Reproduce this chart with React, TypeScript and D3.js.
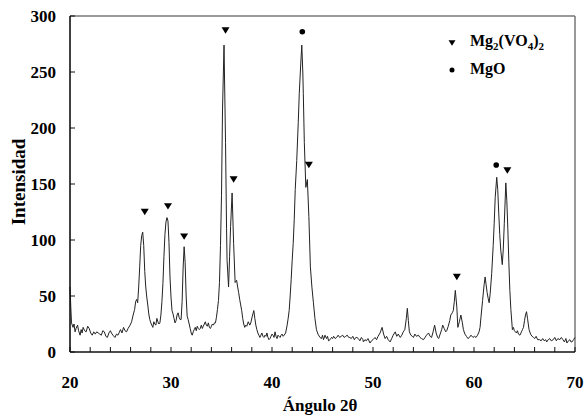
import React from "react";
import * as d3 from "d3";

const xTicks = [20, 30, 40, 50, 60, 70];
const yTicks = [0, 50, 100, 150, 200, 250, 300];

// XRD pattern: [2θ, intensity]
const xrdData: [number, number][] = [
  [20.0, 58], [20.08, 40], [20.15, 26], [20.3, 22], [20.4, 25], [20.5, 18], [20.6, 21], [20.75, 24], [20.85, 19],
  [21.0, 15], [21.1, 20], [21.2, 17], [21.3, 22], [21.45, 19], [21.6, 18], [21.75, 23], [21.9, 21], [22.05, 17],
  [22.2, 15], [22.35, 18], [22.5, 16], [22.65, 18], [22.8, 17], [22.95, 16], [23.1, 15], [23.25, 19], [23.4, 18],
  [23.55, 14], [23.7, 13], [23.85, 17], [24.0, 19], [24.1, 17], [24.25, 15], [24.45, 13], [24.6, 16], [24.75, 15],
  [24.85, 17], [25.0, 20], [25.15, 17], [25.3, 22], [25.45, 19], [25.6, 18], [25.75, 21], [25.95, 24], [26.1, 27],
  [26.25, 33], [26.4, 38], [26.5, 45], [26.6, 47], [26.7, 44], [26.8, 58], [26.9, 76], [27.0, 95], [27.1, 104],
  [27.2, 107], [27.3, 95], [27.4, 72], [27.5, 58], [27.6, 49], [27.7, 42], [27.8, 34], [27.9, 29], [28.0, 26],
  [28.1, 24], [28.2, 22], [28.3, 27], [28.4, 25], [28.5, 24], [28.6, 30], [28.7, 27], [28.8, 25], [28.9, 26],
  [29.0, 33], [29.1, 45], [29.2, 61], [29.3, 85], [29.4, 105], [29.5, 116], [29.6, 120], [29.7, 117], [29.8, 98],
  [29.9, 67], [30.0, 49], [30.1, 37], [30.2, 34], [30.3, 30], [30.4, 26], [30.5, 28], [30.6, 33], [30.7, 35],
  [30.8, 31], [30.9, 29], [31.0, 29], [31.1, 45], [31.2, 75], [31.3, 94], [31.4, 80], [31.5, 50], [31.6, 32],
  [31.7, 29], [31.8, 25], [31.9, 21], [32.0, 17], [32.1, 15], [32.2, 18], [32.3, 20], [32.4, 22], [32.5, 19],
  [32.6, 23], [32.7, 21], [32.8, 20], [32.9, 21], [33.0, 24], [33.1, 21], [33.2, 23], [33.3, 25], [33.4, 27],
  [33.5, 24], [33.6, 23], [33.7, 26], [33.8, 22], [33.9, 21], [34.0, 23], [34.1, 25], [34.2, 24], [34.3, 26],
  [34.4, 26], [34.5, 31], [34.6, 38], [34.7, 46], [34.8, 62], [34.9, 95], [35.0, 140], [35.1, 216], [35.25, 274],
  [35.4, 187], [35.5, 110], [35.55, 82], [35.7, 58], [35.8, 85], [35.9, 112], [36.05, 142], [36.2, 97], [36.35, 62],
  [36.5, 64], [36.6, 58], [36.7, 53], [36.8, 47], [36.9, 42], [37.0, 37], [37.1, 30], [37.2, 25], [37.3, 22],
  [37.4, 24], [37.5, 23], [37.65, 27], [37.8, 24], [37.9, 26], [38.05, 32], [38.2, 37], [38.3, 30], [38.4, 24],
  [38.5, 20], [38.6, 17], [38.7, 15], [38.8, 13], [38.9, 15], [39.0, 17], [39.1, 14], [39.2, 13], [39.3, 15],
  [39.4, 14], [39.5, 17], [39.6, 13], [39.7, 11], [39.8, 12], [39.9, 14], [40.0, 16], [40.1, 15], [40.2, 13],
  [40.3, 18], [40.4, 14], [40.5, 12], [40.6, 15], [40.7, 14], [40.8, 13], [40.9, 15], [41.0, 16], [41.1, 14],
  [41.2, 15], [41.35, 17], [41.5, 24], [41.6, 30], [41.7, 37], [41.8, 50], [41.9, 65], [42.0, 82], [42.1, 97],
  [42.2, 118], [42.3, 145], [42.45, 171], [42.6, 205], [42.7, 231], [42.85, 258], [42.95, 274], [43.05, 250],
  [43.1, 231], [43.2, 187], [43.35, 147], [43.5, 154], [43.65, 121], [43.8, 76], [43.95, 58], [44.1, 44],
  [44.25, 30], [44.4, 20], [44.55, 16], [44.75, 13], [44.9, 12], [45.0, 15], [45.1, 11], [45.25, 15], [45.4, 12],
  [45.5, 14], [45.6, 10], [45.75, 11], [45.9, 13], [46.0, 12], [46.1, 14], [46.25, 12], [46.4, 13], [46.55, 15],
  [46.7, 13], [46.85, 14], [47.0, 15], [47.15, 13], [47.3, 14], [47.45, 15], [47.6, 13], [47.7, 13], [47.85, 12],
  [48.0, 14], [48.15, 11], [48.3, 13], [48.4, 13], [48.55, 12], [48.7, 10], [48.85, 13], [49.0, 11], [49.05, 9],
  [49.2, 11], [49.35, 10], [49.5, 12], [49.7, 8], [49.85, 10], [50.0, 11], [50.2, 13], [50.35, 11], [50.5, 14],
  [50.7, 17], [50.9, 22], [51.05, 16], [51.2, 12], [51.35, 14], [51.5, 11], [51.7, 9], [51.85, 12], [52.0, 15],
  [52.2, 18], [52.35, 14], [52.5, 16], [52.7, 13], [52.85, 15], [53.0, 18], [53.15, 20], [53.3, 30], [53.4, 39],
  [53.5, 28], [53.6, 18], [53.75, 15], [53.9, 14], [54.0, 13], [54.15, 16], [54.3, 14], [54.5, 15], [54.65, 13],
  [54.8, 12], [55.0, 11], [55.15, 13], [55.3, 15], [55.5, 17], [55.65, 14], [55.8, 13], [55.95, 18], [56.1, 24],
  [56.25, 17], [56.4, 13], [56.5, 12], [56.65, 16], [56.8, 20], [56.9, 24], [57.05, 21], [57.2, 18], [57.3, 19],
  [57.45, 23], [57.6, 28], [57.7, 33], [57.85, 35], [57.95, 37], [58.05, 45], [58.15, 55], [58.3, 40], [58.4, 22],
  [58.55, 27], [58.7, 33], [58.85, 26], [58.95, 20], [59.1, 16], [59.25, 14], [59.4, 12], [59.55, 13], [59.7, 15],
  [59.9, 13], [60.05, 14], [60.2, 13], [60.35, 15], [60.5, 18], [60.6, 22], [60.7, 32], [60.85, 46], [61.0, 60],
  [61.1, 67], [61.2, 60], [61.3, 53], [61.4, 48], [61.5, 44], [61.6, 52], [61.75, 70], [61.9, 95], [62.0, 115],
  [62.1, 138], [62.25, 156], [62.35, 145], [62.45, 124], [62.55, 105], [62.65, 91], [62.8, 78], [62.9, 92],
  [63.0, 115], [63.15, 151], [63.25, 135], [63.35, 110], [63.45, 80], [63.55, 55], [63.65, 38], [63.8, 20],
  [63.9, 22], [64.0, 19], [64.1, 18], [64.2, 17], [64.3, 19], [64.4, 16], [64.55, 15], [64.7, 18], [64.8, 20],
  [64.9, 22], [65.0, 28], [65.1, 33], [65.2, 36], [65.3, 30], [65.45, 20], [65.6, 16], [65.75, 14], [65.9, 13],
  [66.0, 12], [66.15, 14], [66.3, 11], [66.5, 11], [66.65, 10], [66.8, 12], [66.95, 10], [67.1, 11], [67.2, 9],
  [67.35, 11], [67.5, 12], [67.65, 10], [67.85, 11], [68.0, 13], [68.15, 10], [68.3, 12], [68.5, 11], [68.65, 13],
  [68.8, 11], [68.95, 9], [69.1, 12], [69.2, 8], [69.35, 10], [69.5, 11], [69.6, 9], [69.7, 9], [69.85, 11],
  [70.0, 13],
];

// Phase markers
const mgVanadateMarks: [number, number][] = [
  [27.4, 125], [29.7, 130], [31.3, 103], [35.4, 287], [36.2, 154], [43.65, 167], [58.3, 67], [63.3, 162],
];
const mgoMarks: [number, number][] = [
  [43.0, 286], [62.2, 167],
];

const W = 585;
const H = 419;
const left = 70;
const right = 575;
const top = 16;
const bottom = 352;
const serifStyle = { fontFamily: '"Liberation Serif"' };

export default function App() {
  const x = d3.scaleLinear().domain([20, 70]).range([left, right]);
  const y = d3.scaleLinear().domain([0, 300]).range([bottom, top]);
  const line = d3
    .line<[number, number]>()
    .x((d) => x(d[0]))
    .y((d) => y(d[1]));
  const minorX = d3.range(20, 70.001, 2);
  const tri = (cx: number, cy: number, s = 4) =>
    `M${cx - s},${cy - s * 0.8}L${cx + s},${cy - s * 0.8}L${cx},${cy + s * 0.8}Z`;

  return (
    <svg
      width={W}
      height={H}
      style={{ position: "absolute", left: 0, top: 0, background: "#fff" }}
    >
      <rect x={0} y={0} width={W} height={H} fill="#fff" />
      {/* frame top/right */}
      <line x1={left} x2={right} y1={top} y2={top} stroke="#777" strokeWidth={1.5} />
      <line x1={right} x2={right} y1={top} y2={bottom} stroke="#777" strokeWidth={1.5} />
      {/* data */}
      <path d={line(xrdData) || ""} fill="none" stroke="#222" strokeWidth={1} strokeLinejoin="round" />
      {/* axes */}
      <line x1={left} x2={right} y1={bottom} y2={bottom} stroke="#111" strokeWidth={1.6} />
      <line x1={left} x2={left} y1={top} y2={bottom} stroke="#111" strokeWidth={1.6} />
      {minorX.map((t) => (
        <line key={"mx" + t} x1={x(t)} x2={x(t)} y1={bottom} y2={bottom - 5} stroke="#111" strokeWidth={1} />
      ))}
      {yTicks.map((t) => (
        <line key={"yt" + t} x1={left} x2={left + 5} y1={y(t)} y2={y(t)} stroke="#111" strokeWidth={1} />
      ))}
      {yTicks.map((t) => (
        <text key={"yl" + t} x={56} y={y(t)} dy="0.35em" textAnchor="end" fontSize={17} fontWeight="bold" style={serifStyle}>
          {t}
        </text>
      ))}
      {xTicks.map((t) => (
        <text key={"xl" + t} x={x(t)} y={388} textAnchor="middle" fontSize={17} fontWeight="bold" style={serifStyle}>
          {t}
        </text>
      ))}
      <text x={320} y={411} textAnchor="middle" fontSize={17} fontWeight="bold" style={serifStyle}>
        Ángulo 2θ
      </text>
      <text transform={`translate(25,182) rotate(-90)`} textAnchor="middle" fontSize={19} fontWeight="bold" style={serifStyle}>
        Intensidad
      </text>
      {/* markers */}
      {mgVanadateMarks.map((d, i) => (
        <path key={"tv" + i} d={tri(x(d[0]), y(d[1]))} fill="#000" />
      ))}
      {mgoMarks.map((d, i) => (
        <circle key={"mo" + i} cx={x(d[0])} cy={y(d[1])} r={2.8} fill="#000" />
      ))}
      {/* legend */}
      <path d={tri(452, 43, 3.5)} fill="#000" />
      <text x={470} y={46} fontSize={16} fontWeight="bold" style={serifStyle}>
        Mg<tspan fontSize={11} dy={4}>2</tspan>
        <tspan dy={-4}>(VO</tspan>
        <tspan fontSize={11} dy={4}>4</tspan>
        <tspan dy={-4}>)</tspan>
        <tspan fontSize={11} dy={4}>2</tspan>
      </text>
      <circle cx={452} cy={70} r={2.5} fill="#000" />
      <text x={470} y={74} fontSize={16} fontWeight="bold" style={serifStyle}>
        MgO
      </text>
    </svg>
  );
}
